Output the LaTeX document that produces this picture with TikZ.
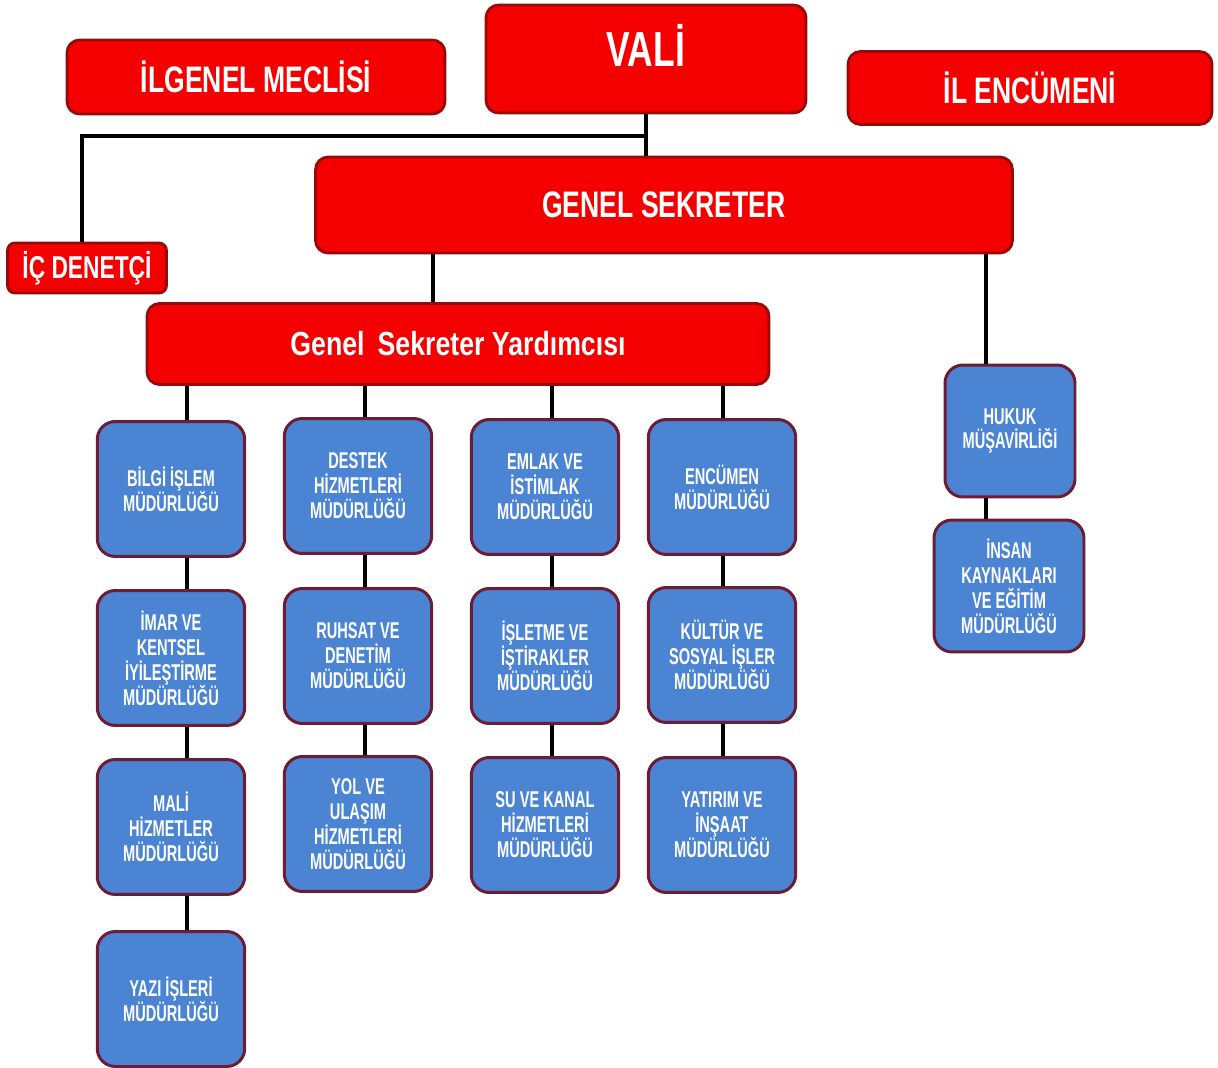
\documentclass[tikz,border=0pt]{standalone}
\usepackage{fontspec}
\newfontfamily\cf[FakeStretch=0.72]{Liberation Sans}
\newfontfamily\blf[FakeStretch=0.64]{Liberation Sans}
\newfontfamily\yf[FakeStretch=0.8]{Liberation Sans}
\definecolor{redfill}{RGB}{245,0,0}
\definecolor{redline}{RGB}{150,10,10}
\definecolor{bluefill}{RGB}{74,132,210}
\definecolor{blueline}{RGB}{110,28,52}
\begin{document}
\begin{tikzpicture}[x=0.02cm,y=-0.02cm,
  redbox/.style={draw=redline, line width=1.6pt, fill=redfill, rounded corners=0.25cm,
    text=white, font=\cf\bfseries, inner sep=0pt, align=center},
  bluebox/.style={draw=blueline, line width=1.7pt, fill=bluefill, rounded corners=0.36cm,
    text=white, font=\blf\bfseries\fontsize{13}{14.2}\selectfont, inner sep=0pt, align=center,
    minimum width=2.95cm, minimum height=2.7cm},
  conn/.style={draw=black, line width=1.8pt}]
\useasboundingbox (0,0) rectangle (1218,1068);
% red boxes
\node[redbox, minimum width=7.56cm, minimum height=1.48cm, font=\cf\bfseries\fontsize{21}{24}\selectfont] (meclis) at (256,77) {İLGENEL MECLİSİ};
\node[redbox, minimum width=6.4cm, minimum height=2.16cm, font=\cf\bfseries\fontsize{28}{30}\selectfont] (vali) at (646,59) {\raisebox{15pt}{VALİ}};
\node[redbox, minimum width=7.28cm, minimum height=1.46cm, font=\cf\bfseries\fontsize{21}{24}\selectfont] (encumen) at (1030,88) {İL ENCÜMENİ};
\node[redbox, minimum width=13.94cm, minimum height=1.92cm, font=\cf\bfseries\fontsize{21}{24}\selectfont] (gs) at (664,205) {GENEL SEKRETER};
\node[redbox, minimum width=3.18cm, minimum height=1.0cm, rounded corners=0.15cm, font=\cf\bfseries\fontsize{18}{20}\selectfont] (icd) at (87,268) {İÇ DENETÇİ};
\node[redbox, minimum width=12.44cm, minimum height=1.62cm, font=\yf\bfseries\fontsize{19}{22}\selectfont] (gsy) at (458,344) {Genel\, Sekreter Yardımcısı};
% blue boxes column 1
\node[bluebox] (b11) at (171,489) {BİLGİ İŞLEM\\MÜDÜRLÜĞÜ};
\node[bluebox] (b12) at (171,658) {İMAR VE\\KENTSEL\\İYİLEŞTİRME\\MÜDÜRLÜĞÜ};
\node[bluebox] (b13) at (171,827) {MALİ\\HİZMETLER\\MÜDÜRLÜĞÜ};
\node[bluebox] (b14) at (171,999) {YAZI İŞLERİ\\MÜDÜRLÜĞÜ};
% column 2
\node[bluebox] (b21) at (358,486) {DESTEK\\HİZMETLERİ\\MÜDÜRLÜĞÜ};
\node[bluebox] (b22) at (358,656) {RUHSAT VE\\DENETİM\\MÜDÜRLÜĞÜ};
\node[bluebox] (b23) at (358,824) {YOL VE\\ULAŞIM\\HİZMETLERİ\\MÜDÜRLÜĞÜ};
% column 3
\node[bluebox] (b31) at (545,487) {EMLAK VE\\İSTİMLAK\\MÜDÜRLÜĞÜ};
\node[bluebox] (b32) at (545,656) {İŞLETME VE\\İŞTİRAKLER\\MÜDÜRLÜĞÜ};
\node[bluebox] (b33) at (545,825) {SU VE KANAL\\HİZMETLERİ\\MÜDÜRLÜĞÜ};
% column 4
\node[bluebox] (b41) at (722,487) {ENCÜMEN\\MÜDÜRLÜĞÜ};
\node[bluebox] (b42) at (722,655) {KÜLTÜR VE\\SOSYAL İŞLER\\MÜDÜRLÜĞÜ};
\node[bluebox] (b43) at (722,825) {YATIRIM VE\\İNŞAAT\\MÜDÜRLÜĞÜ};
% right column
\node[bluebox, minimum width=2.6cm, minimum height=2.64cm] (hukuk) at (1010,431) {HUKUK\\MÜŞAVİRLİĞİ};
\node[bluebox, minimum width=3.0cm, minimum height=2.64cm] (insan) at (1009,586) {İNSAN\\KAYNAKLARI\\VE EĞİTİM\\MÜDÜRLÜĞÜ};
% helper coordinates
\coordinate (j) at (646,136);
\coordinate (x1) at (433,0);
\coordinate (x2) at (986,0);
\coordinate (xa) at (187,0);
\coordinate (xb) at (365,0);
\coordinate (xc) at (552,0);
\coordinate (xd) at (723,0);
\coordinate (xi) at (82,0);
% connectors
\draw[conn] (vali.south) -- (vali.south |- gs.north);
\draw[conn] (j) -- (j -| xi) -- (icd.north -| xi);
\draw[conn] (gs.south -| x1) -- (gsy.north -| x1);
\draw[conn] (gs.south -| x2) -- (hukuk.north -| x2);
\draw[conn] (hukuk.south -| x2) -- (insan.north -| x2);
\draw[conn] (gsy.south -| xa) -- (b11.north -| xa);
\draw[conn] (b11.south -| xa) -- (b12.north -| xa);
\draw[conn] (b12.south -| xa) -- (b13.north -| xa);
\draw[conn] (b13.south -| xa) -- (b14.north -| xa);
\draw[conn] (gsy.south -| xb) -- (b21.north -| xb);
\draw[conn] (b21.south -| xb) -- (b22.north -| xb);
\draw[conn] (b22.south -| xb) -- (b23.north -| xb);
\draw[conn] (gsy.south -| xc) -- (b31.north -| xc);
\draw[conn] (b31.south -| xc) -- (b32.north -| xc);
\draw[conn] (b32.south -| xc) -- (b33.north -| xc);
\draw[conn] (gsy.south -| xd) -- (b41.north -| xd);
\draw[conn] (b41.south -| xd) -- (b42.north -| xd);
\draw[conn] (b42.south -| xd) -- (b43.north -| xd);
\end{tikzpicture}
\end{document}
